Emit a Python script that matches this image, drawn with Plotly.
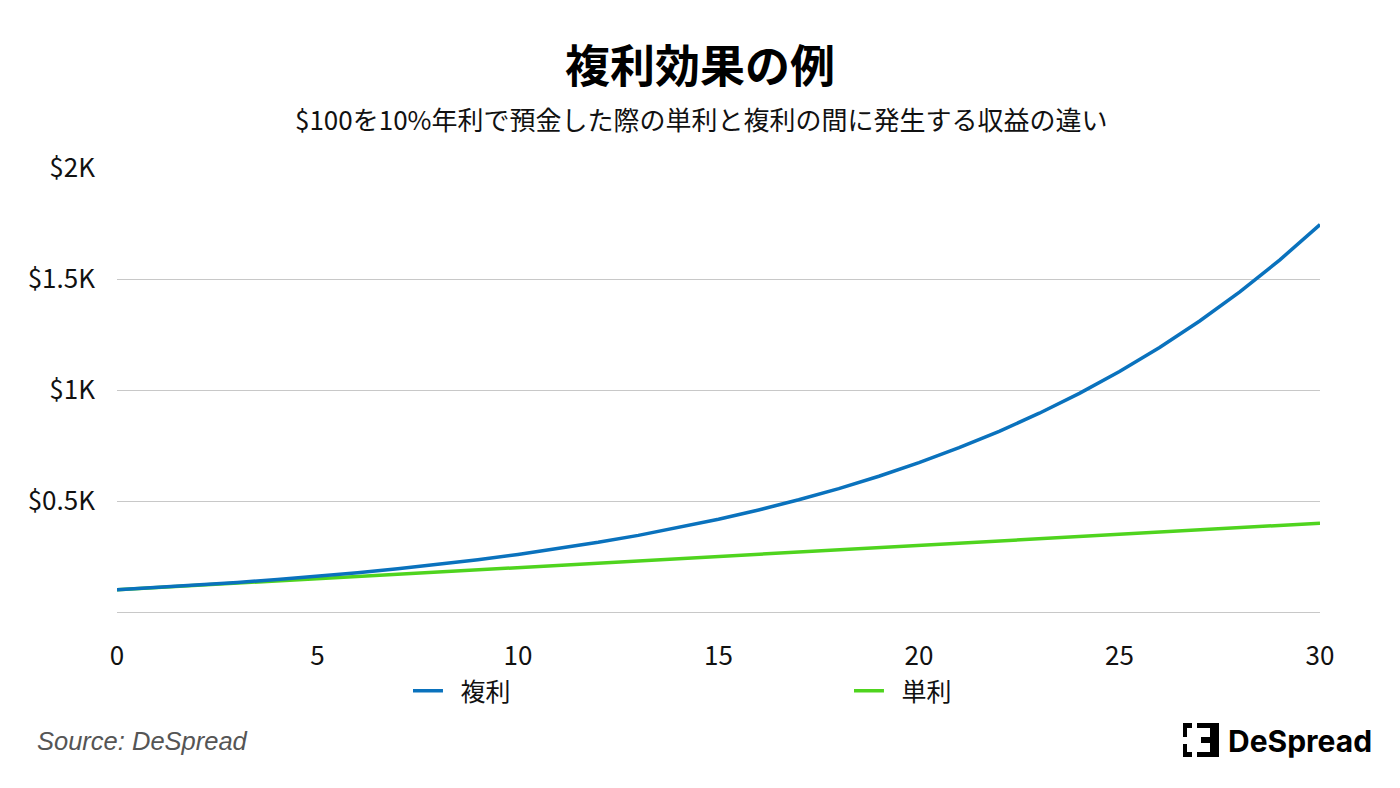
import plotly.graph_objects as go

years = list(range(0, 31))
compound = [100, 110, 121, 133.1, 146.41, 161.05, 177.16, 194.87, 214.36, 235.79,
            259.37, 285.31, 313.84, 345.23, 379.75, 417.72, 459.5, 505.45, 555.99,
            611.59, 672.75, 740.02, 814.03, 895.43, 984.97, 1083.47, 1191.82,
            1310.99, 1442.09, 1586.31, 1744.94]
simple = [100, 110, 120, 130, 140, 150, 160, 170, 180, 190, 200, 210, 220, 230, 240,
          250, 260, 270, 280, 290, 300, 310, 320, 330, 340, 350, 360, 370, 380, 390, 400]
y_ticks = [500, 1000, 1500, 2000]
y_labels = ["$0.5K", "$1K", "$1.5K", "$2K"]
x_ticks = [0, 5, 10, 15, 20, 25, 30]

FONT = "Noto Sans CJK JP"

# page offset (browser body margin)
OFF = 8
W, H = 1400, 788
l, r, t, b = 109, 88, 160, 184
pw, ph = W - l - r, H - t - b


def px(xp):
    return (xp - OFF - l) / pw


def py(yp):
    return (H - b - (yp - OFF)) / ph


fig = go.Figure()
fig.add_trace(go.Scatter(x=years, y=simple, mode="lines", name="\u2002単利",
                         line=dict(color="#4fd41e", width=3.5), legendrank=2))
fig.add_trace(go.Scatter(x=years, y=compound, mode="lines", name="\u2002複利",
                         line=dict(color="#0a72bd", width=3.5), legendrank=1))

fig.update_layout(
    width=W, height=H,
    paper_bgcolor="white", plot_bgcolor="white",
    margin=dict(l=l, r=r, t=t, b=b),
    font=dict(family=FONT, color="#111111"),
    showlegend=True,
    legend=dict(orientation="h", x=px(420) - 0.01, xanchor="left", y=py(668), yanchor="top",
                entrywidth=396, entrywidthmode="pixels",
                font=dict(size=25, family=FONT, color="#111111"),
                itemwidth=30, traceorder="normal"),
    xaxis=dict(range=[0, 30], tickvals=x_ticks, showgrid=False, zeroline=False,
               showline=False, tickfont=dict(size=26, family=FONT, color="#111111"),
               ticks="", ticklabelstandoff=26),
    yaxis=dict(range=[0, 2000], tickvals=y_ticks, ticktext=y_labels,
               showgrid=True, gridcolor="#c8c8c8", gridwidth=1,
               zeroline=True, zerolinecolor="#c8c8c8", zerolinewidth=1,
               showline=False, ticks="", ticklabelstandoff=21,
               tickfont=dict(size=26, family=FONT, color="#111111")),
    hovermode=False,
)

fig.add_annotation(text="<b>複利効果の例</b>", x=px(700), xref="paper", xanchor="center",
                   y=py(63), yref="paper", yanchor="middle", showarrow=False,
                   font=dict(size=45, family=FONT, color="#000000"))
fig.add_annotation(text="$100を10%年利で預金した際の単利と複利の間に発生する収益の違い",
                   x=px(701), xref="paper", xanchor="center", y=py(118), yref="paper",
                   yanchor="middle", showarrow=False,
                   font=dict(size=26, family=FONT, color="#111111"))
fig.add_annotation(text="<i>Source: DeSpread</i>", x=px(35), y=py(741), xref="paper",
                   yref="paper", showarrow=False, xanchor="left", yanchor="middle",
                   font=dict(size=25.5, family="Liberation Sans", color="#555555"))
fig.add_annotation(text="<b>DeSpread</b>", x=px(1226), y=py(741), xref="paper",
                   yref="paper", showarrow=False, xanchor="left", yanchor="middle",
                   font=dict(size=30, family="Inter", color="#000000"))

# logo icon
logo_rects = [
    (1183, 723, 1192, 728), (1183, 723, 1187, 737),
    (1183, 744, 1187, 757), (1183, 752, 1192, 757),
    (1197, 723, 1214, 728), (1210, 723, 1219, 757),
    (1201, 737, 1219, 743), (1197, 752, 1214, 757),
]
for x0, y0, x1, y1 in logo_rects:
    fig.add_shape(type="rect", xref="paper", yref="paper",
                  x0=px(x0), x1=px(x1), y0=py(y1), y1=py(y0),
                  fillcolor="#000000", line=dict(width=0))

fig.write_html("out.html")
